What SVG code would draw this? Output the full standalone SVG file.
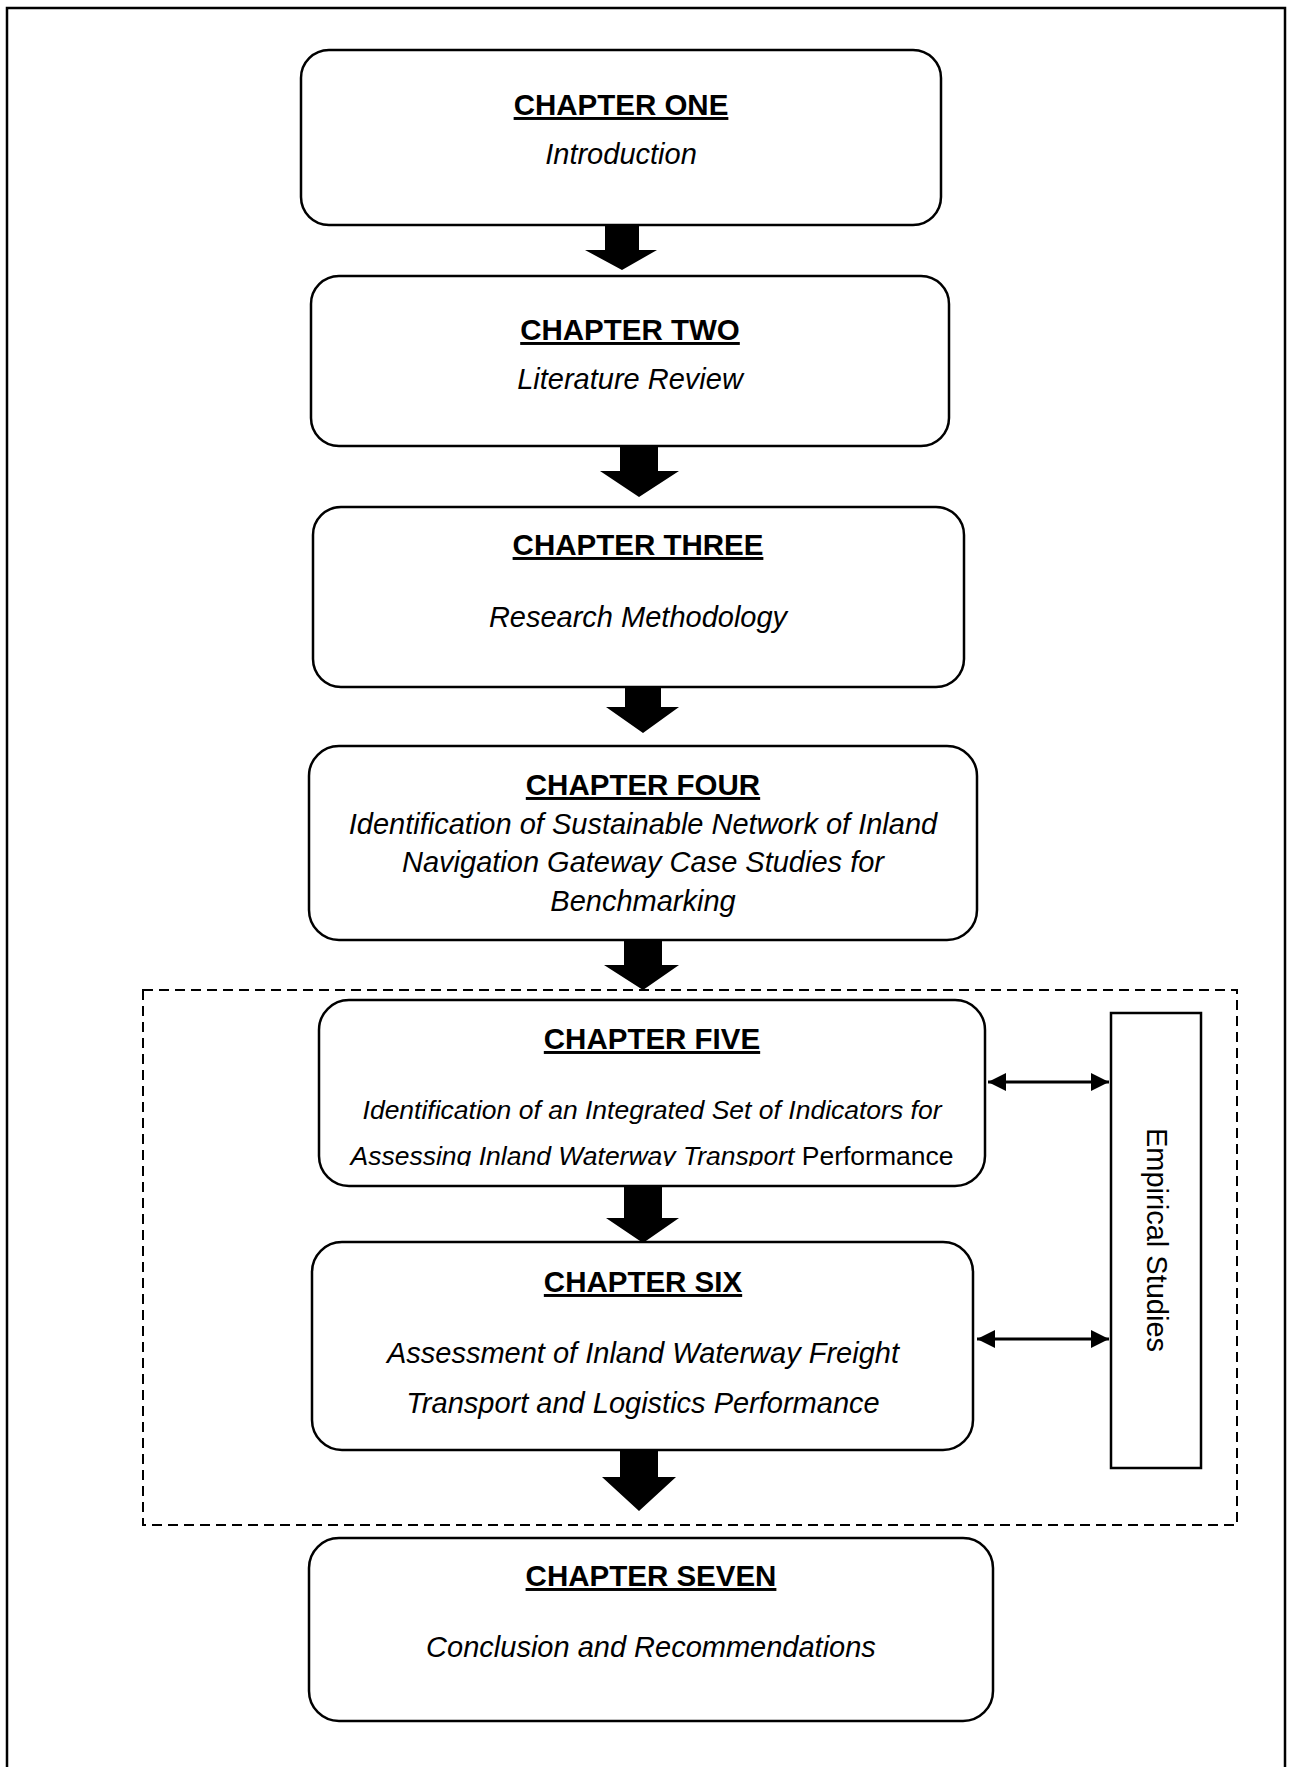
<svg xmlns="http://www.w3.org/2000/svg" width="1293" height="1767" viewBox="0 0 1293 1767">
  <style>
    .frame { fill: none; stroke: #000; stroke-width: 2.5; }
    .box { fill: #fff; stroke: #000; stroke-width: 2.5; }
    .group { fill: none; stroke: #000; stroke-width: 2; stroke-dasharray: 10 6; }
    .side { fill: #fff; stroke: #000; stroke-width: 2.5; }
    .head { font-family: "Liberation Sans", Arial, sans-serif; font-weight: bold; font-size: 29.5px; text-anchor: middle; text-decoration: underline; text-decoration-thickness: 3px; fill: #000; }
    .sub { font-family: "Liberation Sans", Arial, sans-serif; font-style: italic; font-size: 29px; text-anchor: middle; fill: #000; }
    .sub-sm { font-family: "Liberation Sans", Arial, sans-serif; font-style: italic; font-size: 26.5px; text-anchor: middle; fill: #000; }
    .plain { font-style: normal; }
    .label { font-family: "Liberation Sans", Arial, sans-serif; font-size: 29px; text-anchor: middle; fill: #000; }
    .flow { fill: #000; stroke: none; }
    .link { stroke: #000; stroke-width: 3; fill: none; marker-start: url(#tip-start); marker-end: url(#tip-end); }
  </style>
  <defs>
    <marker id="tip-end" viewBox="0 0 10 10" refX="10" refY="5" markerWidth="6" markerHeight="6" orient="auto" markerUnits="strokeWidth">
      <path d="M0,0 L10,5 L0,10 z" fill="#000"/>
    </marker>
    <marker id="tip-start" viewBox="0 0 10 10" refX="0" refY="5" markerWidth="6" markerHeight="6" orient="auto" markerUnits="strokeWidth">
      <path d="M10,0 L0,5 L10,10 z" fill="#000"/>
    </marker>
    <clipPath id="cut-five">
      <rect x="300" y="1130" width="700" height="36"/>
    </clipPath>
  </defs>

  <rect width="1293" height="1767" fill="#fff"/>

  <!-- page frame (runs off the bottom edge) -->
  <rect class="frame" x="7" y="8" width="1278" height="1800"/>

  <!-- dashed grouping of chapters five and six -->
  <rect class="group" x="143" y="990" width="1094" height="535"/>

  <!-- connectors -->
  <g id="connectors">
    <path class="flow" d="M605,224 H639 V250 H657 L622,270 L585,250 H605 Z"/>
    <path class="flow" d="M620,445 H658 V471 H679 L639,497 L600,471 H620 Z"/>
    <path class="flow" d="M625,681 H661 V707 H679 L643,733 L606,707 H625 Z"/>
    <path class="flow" d="M624,939 H662 V965 H679 L643,990 L604,965 H624 Z"/>
    <path class="flow" d="M624,1185 H662 V1218 H679 L643,1243 L606,1218 H624 Z"/>
    <path class="flow" d="M620,1449 H658 V1477 H676 L639,1511 L602,1477 H620 Z"/>
    <line class="link" x1="988" y1="1082" x2="1109" y2="1082"/>
    <line class="link" x1="977" y1="1339" x2="1109" y2="1339"/>
  </g>

  <g id="ch1">
    <rect class="box" x="301" y="50" width="640" height="175" rx="28"/>
    <text class="head" x="621" y="115">CHAPTER ONE</text>
    <text class="sub" x="621" y="164">Introduction</text>
  </g>

  <g id="ch2">
    <rect class="box" x="311" y="276" width="638" height="170" rx="28"/>
    <text class="head" x="630" y="340">CHAPTER TWO</text>
    <text class="sub" x="630" y="389">Literature Review</text>
  </g>

  <g id="ch3">
    <rect class="box" x="313" y="507" width="651" height="180" rx="28"/>
    <text class="head" x="638" y="555">CHAPTER THREE</text>
    <text class="sub" x="638" y="627">Research Methodology</text>
  </g>

  <g id="ch4">
    <rect class="box" x="309" y="746" width="668" height="194" rx="30"/>
    <text class="head" x="643" y="795">CHAPTER FOUR</text>
    <text class="sub" x="643" y="834">Identification of Sustainable Network of Inland</text>
    <text class="sub" x="643" y="872">Navigation Gateway Case Studies for</text>
    <text class="sub" x="643" y="911">Benchmarking</text>
  </g>

  <g id="ch5">
    <rect class="box" x="319" y="1000" width="666" height="186" rx="30"/>
    <text class="head" x="652" y="1049">CHAPTER FIVE</text>
    <text class="sub-sm" x="652" y="1119">Identification of an Integrated Set of Indicators for</text>
    <text class="sub-sm" x="652" y="1165" clip-path="url(#cut-five)">Assessing Inland Waterway Transport<tspan class="plain"> Performance</tspan></text>
  </g>

  <g id="ch6">
    <rect class="box" x="312" y="1242" width="661" height="208" rx="30"/>
    <text class="head" x="643" y="1292">CHAPTER SIX</text>
    <text class="sub" x="643" y="1363">Assessment of Inland Waterway Freight</text>
    <text class="sub" x="643" y="1413">Transport and Logistics Performance</text>
  </g>

  <g id="ch7">
    <rect class="box" x="309" y="1538" width="684" height="183" rx="30"/>
    <text class="head" x="651" y="1586">CHAPTER SEVEN</text>
    <text class="sub" x="651" y="1657">Conclusion and Recommendations</text>
  </g>

  <g id="empirical">
    <rect class="side" x="1111" y="1013" width="90" height="455"/>
    <text class="label" transform="translate(1157,1240) rotate(90)" x="0" y="10">Empirical Studies</text>
  </g>
</svg>
